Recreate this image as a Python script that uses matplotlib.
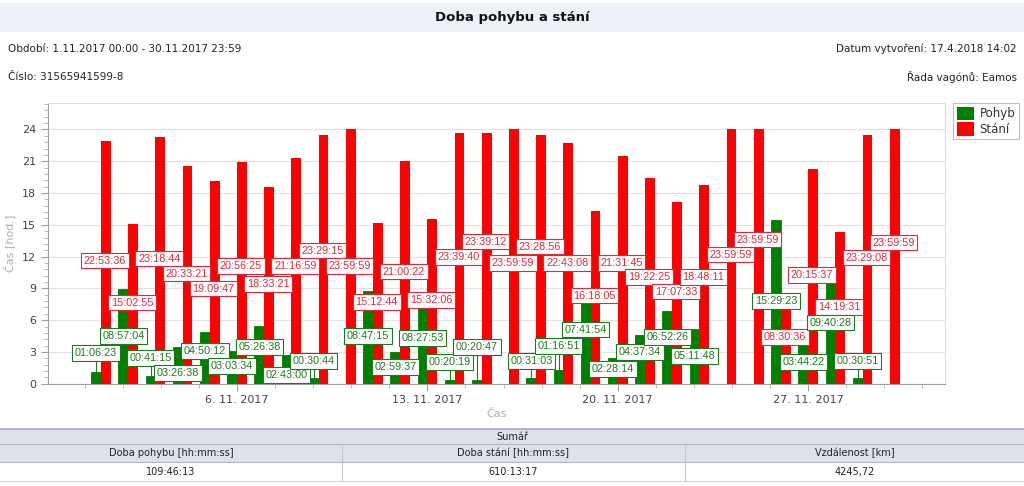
import matplotlib
matplotlib.use("Agg")
import matplotlib.pyplot as plt
from matplotlib.patches import Rectangle, Patch
from matplotlib.ticker import FixedLocator, AutoMinorLocator
import numpy as np

# ---------------- data ----------------
days = list(range(1, 31))
pohyb = ["01:06:23", "08:57:04", "00:41:15", "03:26:38", "04:50:12", "03:03:34", "05:26:38", "02:43:00", "00:30:44", "00:00:00",
         "08:47:15", "02:59:37", "08:27:53", "00:20:19", "00:20:47", "00:00:00", "00:31:03", "01:16:51", "07:41:54", "02:28:14",
         "04:37:34", "06:52:26", "05:11:48", "00:00:00", "00:00:00", "15:29:23", "03:44:22", "09:40:28", "00:30:51", "00:00:00"]
stani = ["22:53:36", "15:02:55", "23:18:44", "20:33:21", "19:09:47", "20:56:25", "18:33:21", "21:16:59", "23:29:15", "23:59:59",
         "15:12:44", "21:00:22", "15:32:06", "23:39:40", "23:39:12", "23:59:59", "23:28:56", "22:43:08", "16:18:05", "21:31:45",
         "19:22:25", "17:07:33", "18:48:11", "23:59:59", "23:59:59", "08:30:36", "20:15:37", "14:19:31", "23:29:08", "23:59:59"]
tick_days = [6, 13, 20, 27]
tick_labels = ["6. 11. 2017", "13. 11. 2017", "20. 11. 2017", "27. 11. 2017"]
series_names = ["Pohyb", "Stání"]

title = "Doba pohybu a stání"
info_left = ["Období: 1.11.2017 00:00 - 30.11.2017 23:59", "Číslo: 31565941599-8"]
info_right = ["Datum vytvoření: 17.4.2018 14:02", "Řada vagónů: Eamos"]
table_title = "Sumář"
table_headers = ["Doba pohybu [hh:mm:ss]", "Doba stání [hh:mm:ss]", "Vzdálenost [km]"]
table_values = ["109:46:13", "610:13:17", "4245,72"]

# label placement (layout, in hours on the y axis)
red_label_y = [11.6, 7.63, 11.8, 10.37, 8.95, 11.12, 9.42, 11.12, 12.54, 11.12,
               7.72, 10.56, 7.91, 11.97, 13.39, 11.4, 12.92, 11.4, 8.29, 11.4,
               10.08, 8.67, 10.08, 12.16, 13.58, 4.41, 10.27, 7.25, 11.88, 13.3]
green_label_y = [2.9, 4.5, 2.43, 1.01, 3.09, 1.67, 3.47, 0.82, 2.15, None,
                 4.5, 1.58, 4.32, 2.05, 3.47, None, 2.15, 3.56, 5.08, 1.39,
                 3.0, 4.41, 2.62, None, None, 7.81, 2.05, 5.74, 2.15, None]


def to_hours(s):
    h, m, sec = (int(p) for p in s.split(":"))
    return h + m / 60 + sec / 3600


g_vals = np.array([to_hours(s) for s in pohyb])
r_vals = np.array([to_hours(s) for s in stani])
x = np.array(days, dtype=float)

GREEN = "#008000"
RED = "#ff0000"
G_TXT = "#1e7a1e"
R_TXT = "#dc2a3a"
LABEL_FONT = ["Liberation Sans", "DejaVu Sans"]

W, H = 1024, 486
plt.rcParams['font.family'] = ['DejaVu Sans']
fig = plt.figure(figsize=(W / 100, H / 100), dpi=100)

# ---------- background axes in pixel coords (header + table) ----------
bg = fig.add_axes([0, 0, 1, 1], zorder=0)
bg.set_xlim(0, W)
bg.set_ylim(H, 0)
bg.axis("off")
bg.add_patch(Rectangle((0, 3), W, 29, fc="#edf1f8", ec="none"))
bg.text(W / 2, 18, title, ha="center", va="center", fontsize=9.5, fontweight="bold", color="#111111")
for i, (l, r) in enumerate(zip(info_left, info_right)):
    yy = 49 + i * 28
    bg.text(8, yy, l, ha="left", va="center", fontsize=7.5, color="#222222")
    bg.text(1017, yy, r, ha="right", va="center", fontsize=7.5, color="#222222")

# table
ty0, ty1, ty2, ty3 = 429, 444, 462, 481
bg.add_patch(Rectangle((0, ty0), W, ty2 - ty0, fc="#dde1ea", ec="none"))
bg.plot([0, W], [ty0, ty0], color="#a9adb8", lw=1.2)
bg.plot([0, W], [ty1, ty1], color="#b3b7c2", lw=0.8)
bg.plot([0, W], [ty2, ty2], color="#b3b7c2", lw=0.8)
bg.plot([0, W], [ty3, ty3], color="#d0d3da", lw=0.8)
for cx in (342, 685):
    bg.plot([cx, cx], [ty1, ty3], color="#c4c7d0", lw=0.8)
bg.text(W / 2, (ty0 + ty1) / 2, table_title, ha="center", va="center", fontsize=7, color="#222222")
col_centers = [171, 513, 855]
for cx, hd, vl in zip(col_centers, table_headers, table_values):
    bg.text(cx, (ty1 + ty2) / 2, hd, ha="center", va="center", fontsize=7, color="#222222")
    bg.text(cx, (ty2 + ty3) / 2, vl, ha="center", va="center", fontsize=7, color="#222222")

# ---------- main chart ----------
left, right, top, bottom = 48, 945, 103, 383.7
ax = fig.add_axes([left / W, (H - bottom) / H, (right - left) / W, (bottom - top) / H], zorder=1)
bw = 0.36
off = 0.18
ax.bar(x - off, g_vals, width=bw, color=GREEN, edgecolor=GREEN, linewidth=0.6, zorder=2, label=series_names[0])
ax.bar(x + off, r_vals, width=bw, color=RED, edgecolor="none", zorder=2, label=series_names[1])

# data labels
for xi, v, ly, s in zip(x, g_vals, green_label_y, pohyb):
    if ly is None:
        continue
    if ly > v:
        ax.plot([xi - off, xi - off], [v, ly], color=G_TXT, lw=0.8, zorder=1.5)
    ax.text(xi - off, ly, s, ha="center", va="center", fontsize=7.8, family=LABEL_FONT, color=G_TXT, zorder=6,
            bbox=dict(boxstyle="square,pad=0.24", fc="white", ec=G_TXT, lw=0.8))
for xi, v, ly, s in zip(x, r_vals, red_label_y, stani):
    ax.text(xi + off - 0.04, ly, s, ha="center", va="center", fontsize=7.8, family=LABEL_FONT, color=R_TXT, zorder=5,
            bbox=dict(boxstyle="square,pad=0.24", fc="white", ec=R_TXT, lw=0.8))

ax.set_xlim(-0.95, 32.03)
ax.set_ylim(0, 26.5)
ax.yaxis.set_major_locator(FixedLocator(np.arange(0, 25, 3)))
ax.yaxis.set_minor_locator(AutoMinorLocator(5))
ax.xaxis.set_major_locator(FixedLocator(tick_days))
ax.set_xticklabels(tick_labels)
ax.xaxis.set_minor_locator(FixedLocator(np.arange(6 - 1.4 * 4, 32.1, 1.4)))
ax.grid(axis="y", which="major", color="#e2e2e2", lw=0.8, zorder=0)
ax.set_axisbelow(True)
ax.tick_params(axis="both", which="major", labelsize=8, labelcolor="#444444", color="#a0a0a0", length=5)
ax.tick_params(axis="both", which="minor", color="#b0b0b0", length=3)
ax.tick_params(axis="x", which="major", pad=3)
for sp in ("top", "right"):
    ax.spines[sp].set_color("#dcdcdc")
for sp in ("left", "bottom"):
    ax.spines[sp].set_color("#a0a0a0")
ax.set_ylabel("Čas [hod.]", fontsize=8, color="#b0b0b0", labelpad=5)
ax.set_xlabel("Čas", fontsize=8, color="#b0b0b0", labelpad=3)

handles = [Patch(fc=GREEN, ec="none"), Patch(fc=RED, ec="none")]
leg = fig.legend(handles, series_names, loc="upper left", bbox_to_anchor=(953 / W, (H - 103) / H),
                 fontsize=8.5, frameon=True, fancybox=False, edgecolor="#c0c0c0", framealpha=1,
                 handlelength=1.5, handleheight=1.4, handletextpad=0.45, borderpad=0.3, labelspacing=0.15,
                 borderaxespad=0)
leg.get_frame().set_linewidth(0.8)
for t in leg.get_texts():
    t.set_color("#333333")

fig.savefig("out.png", dpi=100)
